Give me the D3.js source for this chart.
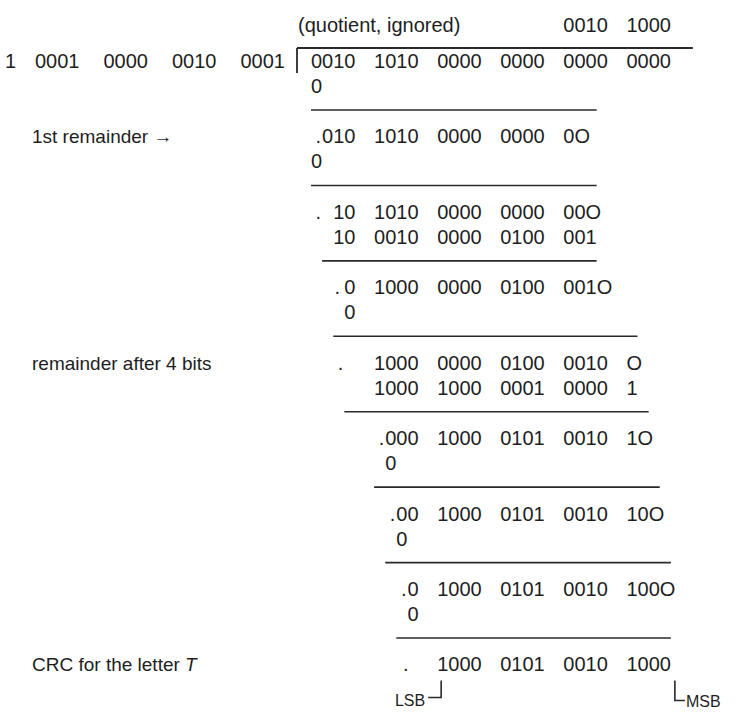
<!DOCTYPE html>
<html>
<head>
<meta charset="utf-8">
<script src="https://cdn.jsdelivr.net/npm/d3@7"></script>
<style>
  html, body { margin: 0; padding: 0; background: #fff; }
  svg text { font-family: "Liberation Sans", Arial, Helvetica, sans-serif; fill: #1e1e1e; }
</style>
</head>
<body>
<div id="chart"></div>
<script>
// CRC long division for the letter T, drawn bit by bit on a column grid

const width = 740;
const height = 713;

// quotient (only last byte shown) sits over bit columns 16..23
const quotientBits = "00101000";
const quotientStart = 16;

// divisor and dividend
const divisorGroups = ["1", "0001", "0000", "0010", "0001"];
const dividendBits = "001010100000000000000000";

// working rows: block (step), sub-row, first bit column, digits, dot column (null = none)
const rowBlock = [0, 1, 1, 2, 2, 3, 3, 4, 4, 5, 5, 6, 6, 7, 7, 8];
const rowSub   = [1, 0, 1, 0, 1, 0, 1, 0, 1, 0, 1, 0, 1, 0, 1, 0];
const rowStart = [0, 1, 0, 2, 2, 3, 3, 4, 4, 5, 5, 6, 6, 7, 7, 8];
const rowText  = [
    "0",
    "0101010000000000O",
    "0",
    "1010100000000000O",
    "10001000000100001",
    "0100000000100001O",
    "0",
    "1000000001000010O",
    "10001000000100001",
    "0001000010100101O",
    "0",
    "0010000101001010O",
    "0",
    "0100001010010100O",
    "0",
    "1000010100101000"
];
const rowDot = [null, 1, null, 1, null, 2.7, null, 3, null, 5, null, 6, null, 7, null, 7.2];

// rule lines under each subtraction: first and last bit column covered
const lineStart = [0, 0, 1, 2, 3, 4, 5, 6];
const lineEnd   = [18, 18, 18, 20, 21, 22, 23, 23];

// side labels: block they sit on, text
const labelBlock = [1, 4, 8];
const labelText  = ["1st remainder \u2192", "remainder after 4 bits", "CRC for the letter "];

const quotientNote = "(quotient, ignored)";

// ---- scales ----
const digitW = 11.12;
const groupGap = 18.6;
const xCol = d3.scaleLinear().domain([0, 24]).range([311, 311 + 24 * digitW]);
const xBit = b => xCol(b) + Math.floor(b / 4) * groupGap;

const yBlock = d3.scaleLinear().domain([0, 8]).range([68, 68 + 8 * 75.43]);
const subStep = 25;

const svg = d3.select('#chart')
    .append('svg')
    .attr('width', width)
    .attr('height', height)
    .style('display', 'block');

svg.append('rect').attr('width', width).attr('height', height).attr('fill', '#fff');

const ink = '#2a2a2a';
const fontSize = 20;

// draw a string digit by digit on the bit grid
function drawBits(str, start, y) {
    svg.append('g').selectAll('text')
        .data(str.split(''))
        .enter()
        .append('text')
        .attr('x', (d, i) => xBit(start + i))
        .attr('y', y)
        .attr('font-size', fontSize)
        .text(d => d);
}

// quotient line
const yQuot = yBlock(0) - 36;
svg.append('text')
    .attr('x', xBit(0) - 13)
    .attr('y', yQuot)
    .attr('font-size', fontSize)
    .text(quotientNote);
drawBits(quotientBits, quotientStart, yQuot);

// division bracket
const barX = xBit(0) - 14;
const topY = yBlock(0) - 20;
svg.append('line')
    .attr('x1', barX).attr('x2', xBit(23) + digitW + 22)
    .attr('y1', topY).attr('y2', topY)
    .attr('stroke', ink).attr('stroke-width', 1.8);
svg.append('line')
    .attr('x1', barX).attr('x2', barX)
    .attr('y1', topY).attr('y2', yBlock(0) + 5)
    .attr('stroke', ink).attr('stroke-width', 1.8);

// divisor, right aligned against the bracket
const divPitch = 68.5;
svg.append('g').selectAll('text')
    .data(divisorGroups)
    .enter()
    .append('text')
    .attr('x', (d, i) => barX - 12 - (divisorGroups.length - 1 - i) * divPitch + (i === 0 ? 5 : 0))
    .attr('y', yBlock(0))
    .attr('text-anchor', 'end')
    .attr('font-size', fontSize)
    .text(d => d);

// dividend
drawBits(dividendBits, 0, yBlock(0));

// working rows
rowText.forEach((t, i) => {
    const y = yBlock(rowBlock[i]) + rowSub[i] * subStep;
    drawBits(t, rowStart[i], y);
    if (rowDot[i] !== null) {
        svg.append('text')
            .attr('x', xBit(rowDot[i]) - 1)
            .attr('y', y)
            .attr('text-anchor', 'end')
            .attr('font-size', fontSize)
            .text('.');
    }
});

// rules
svg.append('g').selectAll('line')
    .data(lineStart)
    .enter()
    .append('line')
    .attr('x1', d => xBit(d))
    .attr('x2', (d, i) => xBit(lineEnd[i]) + digitW)
    .attr('y1', (d, i) => yBlock(i) + 42)
    .attr('y2', (d, i) => yBlock(i) + 42)
    .attr('stroke', ink)
    .attr('stroke-width', 1.6);

// side labels
labelText.forEach((t, i) => {
    const txt = svg.append('text')
        .attr('x', 32)
        .attr('y', yBlock(labelBlock[i]))
        .attr('font-size', 19)
        .text(t);
    if (i === labelText.length - 1) {
        txt.append('tspan').attr('font-style', 'italic').text('T');
    }
});

// LSB / MSB markers under the CRC
const yCrc = yBlock(8);
const lsbX = xBit(8) + 4;
svg.append('path')
    .attr('d', `M${lsbX - 13},${yCrc + 26}H${lsbX}V${yCrc + 9}`)
    .attr('fill', 'none').attr('stroke', ink).attr('stroke-width', 1.6);
svg.append('text')
    .attr('x', lsbX - 16)
    .attr('y', yCrc + 35)
    .attr('text-anchor', 'end')
    .attr('font-size', 16)
    .text('LSB');

const msbX = xBit(23) + digitW + 4;
svg.append('path')
    .attr('d', `M${msbX},${yCrc + 9}V${yCrc + 29}H${msbX + 10}`)
    .attr('fill', 'none').attr('stroke', ink).attr('stroke-width', 1.6);
svg.append('text')
    .attr('x', msbX + 11)
    .attr('y', yCrc + 36)
    .attr('font-size', 16)
    .text('MSB');
</script>
</body>
</html>
